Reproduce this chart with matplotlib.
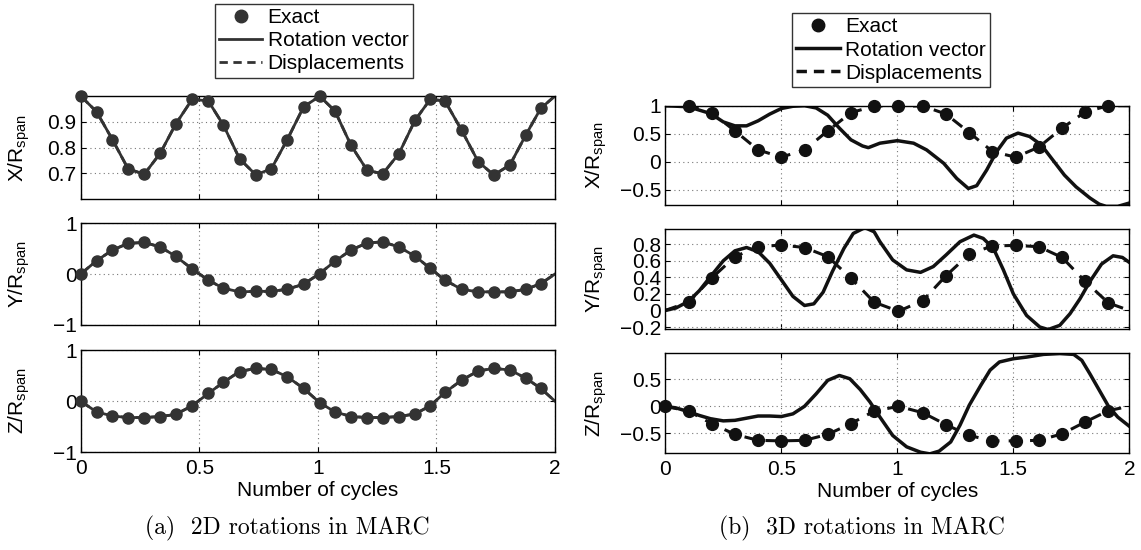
import matplotlib
matplotlib.use('Agg')
import matplotlib.pyplot as plt
from matplotlib.lines import Line2D

plt.rcParams['font.family'] = ['Liberation Sans', 'DejaVu Sans']
plt.rcParams['font.size'] = 15
plt.rcParams['mathtext.fontset'] = 'custom'
plt.rcParams['mathtext.rm'] = 'Liberation Sans'
plt.rcParams['mathtext.it'] = 'Liberation Sans:italic'

# ---------- (a) 2D rotations: sampled exact solution ----------
t2d = [0.0, 0.067, 0.134, 0.2, 0.268, 0.336, 0.4, 0.47, 0.538, 0.602,
       0.67, 0.738, 0.804, 0.87, 0.94, 1.008, 1.072, 1.14, 1.208, 1.274,
       1.342, 1.41, 1.474, 1.536, 1.606, 1.676, 1.742, 1.81, 1.877, 1.94]
x2d = [1.0, 0.939, 0.831, 0.718, 0.697, 0.779, 0.89, 0.987, 0.981, 0.887,
       0.757, 0.695, 0.718, 0.829, 0.958, 0.999, 0.942, 0.809, 0.712, 0.699,
       0.777, 0.906, 0.987, 0.981, 0.868, 0.746, 0.694, 0.733, 0.849, 0.952]
y2d = [0.0, 0.26, 0.47, 0.60, 0.62, 0.53, 0.35, 0.10, -0.12, -0.28,
       -0.35, -0.34, -0.34, -0.30, -0.20, 0.01, 0.25, 0.47, 0.61, 0.63,
       0.53, 0.35, 0.11, -0.12, -0.30, -0.35, -0.35, -0.35, -0.30, -0.19]
z2d = [0.0, -0.21, -0.29, -0.32, -0.32, -0.30, -0.26, -0.09, 0.15, 0.37,
       0.58, 0.64, 0.62, 0.48, 0.25, -0.03, -0.21, -0.30, -0.32, -0.32,
       -0.30, -0.25, -0.09, 0.17, 0.41, 0.59, 0.64, 0.61, 0.45, 0.25]
t2d_end = 2.0
x2d_end, y2d_end, z2d_end = 1.0, 0.0, 0.0

# ---------- (b) 3D rotations ----------
t3d = [0.0, 0.1, 0.2, 0.3, 0.4, 0.5, 0.6, 0.7, 0.8, 0.9,
       1.005, 1.11, 1.21, 1.31, 1.41, 1.51, 1.61, 1.71, 1.81, 1.91]
x3d = [1.0, 1.0, 0.875, 0.55, 0.21, 0.08, 0.21, 0.55, 0.875, 0.995,
       0.995, 0.995, 0.85, 0.52, 0.18, 0.08, 0.26, 0.60, 0.89, 1.0]
y3d = [0.0, 0.10, 0.39, 0.65, 0.77, 0.79, 0.76, 0.65, 0.39, 0.10,
       -0.01, 0.12, 0.42, 0.68, 0.78, 0.785, 0.77, 0.64, 0.35, 0.09]
z3d = [0.0, -0.09, -0.32, -0.52, -0.63, -0.64, -0.63, -0.52, -0.32, -0.09,
       0.0, -0.12, -0.34, -0.54, -0.64, -0.64, -0.63, -0.51, -0.29, -0.08]
t3d_end = 2.0
x3d_end, y3d_end, z3d_end = 1.0, 0.0, 0.0

# rotation vector solution (b)
trv_x = [0.0, 0.03, 0.1, 0.195, 0.25, 0.3, 0.35, 0.4, 0.45, 0.5, 0.55, 0.6,
         0.65, 0.7, 0.75, 0.8, 0.85, 0.875, 0.925, 1.0, 1.07, 1.126, 1.2,
         1.256, 1.306, 1.342, 1.385, 1.428, 1.47, 1.52, 1.57, 1.62, 1.67,
         1.72, 1.77, 1.83, 1.87, 1.9, 1.95, 2.0]
rv_x = [1.0, 0.995, 0.98, 0.86, 0.71, 0.64, 0.64, 0.73, 0.85, 0.95, 0.99, 1.0,
        0.96, 0.83, 0.60, 0.39, 0.28, 0.25, 0.33, 0.375, 0.33, 0.21, -0.03,
        -0.30, -0.48, -0.43, -0.15, 0.18, 0.42, 0.51, 0.45, 0.30, 0.03,
        -0.24, -0.45, -0.65, -0.76, -0.80, -0.80, -0.74]
trv_y = [0.0, 0.046, 0.1, 0.147, 0.195, 0.25, 0.3, 0.35, 0.4, 0.45, 0.5,
         0.55, 0.6, 0.64, 0.68, 0.72, 0.77, 0.81, 0.86, 0.9, 0.925, 0.98,
         1.04, 1.1, 1.155, 1.21, 1.27, 1.33, 1.37, 1.414, 1.457, 1.5, 1.557,
         1.614, 1.65, 1.7, 1.744, 1.787, 1.83, 1.88, 1.93, 1.97, 2.0]
rv_y = [0.0, 0.03, 0.11, 0.24, 0.41, 0.60, 0.72, 0.76, 0.71, 0.57, 0.37,
        0.17, 0.06, 0.08, 0.22, 0.47, 0.75, 0.93, 1.0, 0.95, 0.83, 0.61,
        0.49, 0.46, 0.53, 0.67, 0.83, 0.91, 0.87, 0.75, 0.49, 0.20, -0.06,
        -0.20, -0.23, -0.18, -0.04, 0.14, 0.35, 0.56, 0.66, 0.64, 0.58]
trv_z = [0.0, 0.046, 0.1, 0.147, 0.195, 0.25, 0.3, 0.35, 0.4, 0.45, 0.5,
         0.55, 0.6, 0.65, 0.7, 0.75, 0.795, 0.84, 0.882, 0.925, 0.98, 1.04,
         1.1, 1.14, 1.18, 1.23, 1.27, 1.31, 1.36, 1.4, 1.44, 1.5, 1.557,
         1.63, 1.7, 1.76, 1.795, 1.83, 1.87, 1.91, 1.95, 2.0]
rv_z = [0.0, -0.03, -0.10, -0.17, -0.23, -0.27, -0.26, -0.22, -0.18, -0.18,
        -0.19, -0.14, 0.0, 0.23, 0.48, 0.57, 0.51, 0.31, 0.08, -0.20, -0.54,
        -0.75, -0.85, -0.88, -0.83, -0.66, -0.35, 0.02, 0.39, 0.67, 0.82,
        0.88, 0.91, 0.96, 0.975, 0.96, 0.85, 0.60, 0.30, 0.0, -0.2, -0.37]

ylabels = ['X/R$_\\mathrm{span}$', 'Y/R$_\\mathrm{span}$', 'Z/R$_\\mathrm{span}$']
labels = ['Exact', 'Rotation vector', 'Displacements']

c2d = '#333333'
c3d = '#111111'

fig = plt.figure(figsize=(11.41, 5.5), dpi=100)

left_pos = [[0.0707, 0.6376, 0.4157, 0.1879],
            [0.0707, 0.4091, 0.4157, 0.1854],
            [0.0707, 0.1776, 0.4157, 0.1860]]
right_pos = [[0.5831, 0.6273, 0.4067, 0.1805],
             [0.5831, 0.4024, 0.4067, 0.1807],
             [0.5831, 0.1758, 0.4067, 0.1818]]


def style(ax, last, labx):
    ax.set_xlim(0, 2)
    ax.set_xticks([0, 0.5, 1, 1.5, 2])
    ax.grid(True, linestyle=(0, (1, 3)), color='#777777', linewidth=0.8)
    ax.tick_params(direction='in', top=True, right=True, length=3.5,
                   width=0.8, pad=3)
    ax.tick_params(axis='x', pad=5)
    for s in ax.spines.values():
        s.set_linewidth(1.0)
    if last:
        ax.set_xticklabels(['0', '0.5', '1', '1.5', '2'])
        ax.set_xlabel('Number of cycles', labelpad=2)
    else:
        ax.set_xticklabels([])
    ax.yaxis.set_label_coords(labx, 0.5)


# left panels
data2d = [(x2d, x2d_end), (y2d, y2d_end), (z2d, z2d_end)]
ylims2d = [(0.6, 1.0), (-1, 1), (-1, 1)]
yticks2d = [[0.7, 0.8, 0.9], [-1, 0, 1], [-1, 0, 1]]
for i in range(3):
    ax = fig.add_axes(left_pos[i])
    vals, end = data2d[i]
    tl = t2d + [t2d_end]
    vl = vals + [end]
    ax.plot(tl, vl, '--', color=c2d, lw=2.0)
    ax.plot(tl, vl, '-', color=c2d, lw=2.0)
    ax.plot(t2d, vals, 'o', color=c2d, ms=8, clip_on=False, zorder=5)
    ax.set_ylim(*ylims2d[i])
    ax.set_yticks(yticks2d[i])
    ax.set_yticklabels([f'{v:g}'.replace('-', '\u2212') for v in yticks2d[i]])
    ax.set_ylabel(ylabels[i])
    style(ax, i == 2, -0.103)

# right panels
rv = [(trv_x, rv_x), (trv_y, rv_y), (trv_z, rv_z)]
exact3d = [x3d, y3d, z3d]
ends3d = [x3d_end, y3d_end, z3d_end]
ylims3d = [(-0.775, 1.0), (-0.22, 0.98), (-0.87, 0.98)]
yticks3d = [[-0.5, 0, 0.5, 1], [-0.2, 0, 0.2, 0.4, 0.6, 0.8], [-0.5, 0, 0.5]]
for i in range(3):
    ax = fig.add_axes(right_pos[i])
    vals = exact3d[i]
    ax.plot(t3d + [t3d_end], vals + [ends3d[i]], '--', color=c3d, lw=2.2,
            dashes=(4, 3))
    ax.plot(rv[i][0], rv[i][1], '-', color=c3d, lw=2.5)
    # x and y histories start the exact markers at the first step
    start = 0 if i == 2 else 1
    ax.plot(t3d[start:], vals[start:], 'o', color=c3d, ms=8.5, clip_on=False,
            zorder=5)
    ax.set_ylim(*ylims3d[i])
    ax.set_yticks(yticks3d[i])
    ax.set_yticklabels([f'{v:g}'.replace('-', '\u2212') for v in yticks3d[i]])
    ax.set_ylabel(ylabels[i])
    style(ax, i == 2, -0.121)


def legend_handles(c, lw):
    return [Line2D([], [], marker='o', ls='none', color=c, ms=9),
            Line2D([], [], ls='-', color=c, lw=lw),
            Line2D([], [], ls='--', color=c, lw=lw, dashes=(3, 2))]


leg_kw = dict(loc='upper left', frameon=True, fancybox=False, handlelength=2.1,
              handletextpad=0.25, labelspacing=0.2, borderpad=0.2,
              borderaxespad=0, fontsize=15)
l1 = fig.legend(legend_handles(c2d, 2.0), labels,
                bbox_to_anchor=(0.188, 0.993), **leg_kw)
l1.get_frame().set_edgecolor('black')
l1.get_frame().set_linewidth(1.0)
l2 = fig.legend(legend_handles(c3d, 2.5), labels,
                bbox_to_anchor=(0.694, 0.976), **leg_kw)
l2.get_frame().set_edgecolor('black')
l2.get_frame().set_linewidth(1.0)

fig.text(0.2515, 0.04, '(a)  2D rotations in MARC', family='cmr10',
         fontsize=17, ha='center', va='center')
fig.text(0.7555, 0.04, '(b)  3D rotations in MARC', family='cmr10',
         fontsize=17, ha='center', va='center')

fig.savefig('out.png', dpi=100)
